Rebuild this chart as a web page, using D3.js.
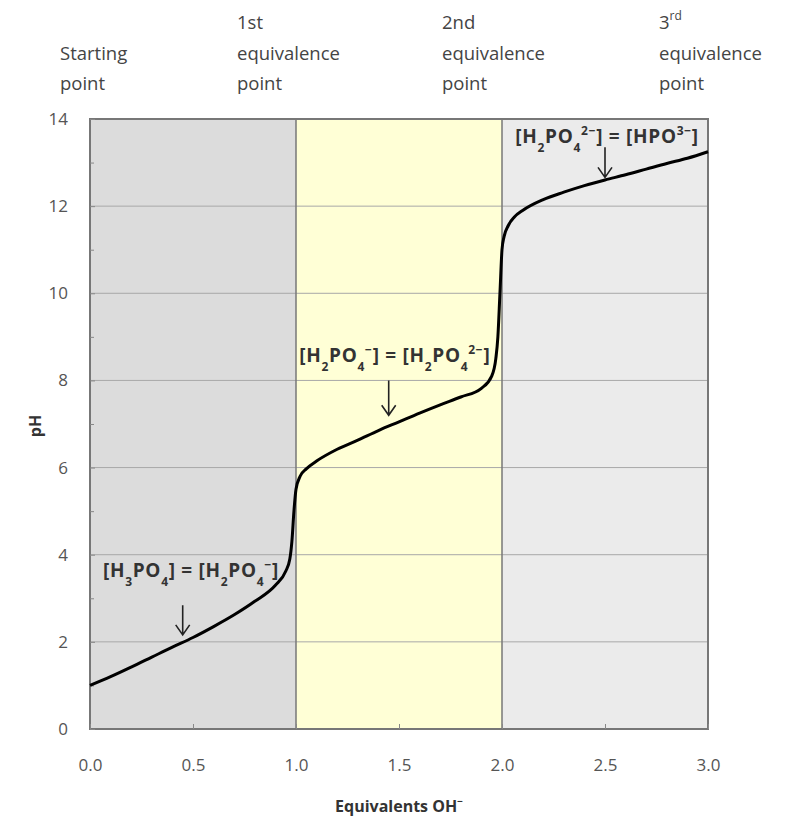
<!DOCTYPE html>
<html>
<head>
<meta charset="utf-8">
<script src="https://cdn.jsdelivr.net/npm/d3@7"></script>
<style>
    body { margin: 0; background: #fff; }
    svg text { font-family: "Open Sans", sans-serif; }
</style>
</head>
<body>
<div id="chart"></div>
<script>
// titration curve values
const equivalents = [0, 0.1, 0.2, 0.3, 0.4, 0.5, 0.6, 0.7, 0.8, 0.9, 0.95, 0.97, 0.98, 0.99, 1.0, 1.02, 1.05, 1.1, 1.2, 1.3, 1.4, 1.5, 1.6, 1.7, 1.8, 1.9, 1.95, 1.97, 1.98, 1.99, 2.0, 2.01, 2.03, 2.06, 2.1, 2.2, 2.3, 2.4, 2.5, 2.6, 2.7, 2.8, 2.9, 3.0];
const pH = [1.0, 1.2, 1.42, 1.65, 1.88, 2.1, 2.35, 2.62, 2.93, 3.3, 3.62, 3.9, 4.3, 5.0, 5.5, 5.8, 5.97, 6.15, 6.42, 6.63, 6.85, 7.05, 7.25, 7.44, 7.62, 7.82, 8.1, 8.5, 9.0, 10.0, 11.0, 11.3, 11.55, 11.75, 11.9, 12.15, 12.32, 12.47, 12.6, 12.72, 12.85, 12.98, 13.1, 13.25];

const xTicks = [0, 0.5, 1, 1.5, 2, 2.5, 3];
const yTicks = [0, 2, 4, 6, 8, 10, 12, 14];

// shaded regions between equivalence points
const regions = [
    {from: 0, to: 1, color: "#dcdcdc"},
    {from: 1, to: 2, color: "#ffffd6"},
    {from: 2, to: 3, color: "#ebebeb"}
];

// labels above the chart (at equivalents 0..3), [main, superscript]
const topLabels = [
    {at: 0, lines: [["Starting", ""], ["point", ""]]},
    {at: 1, lines: [["1st", ""], ["equivalence", ""], ["point", ""]]},
    {at: 2, lines: [["2nd", ""], ["equivalence", ""], ["point", ""]]},
    {at: 3, lines: [["3", "rd"], ["equivalence", ""], ["point", ""]]}
];

// annotations: label at (lx, ly), arrow from pH a0 down to a1 at equivalents ax
const annotations = [
    {lx: 0.49, ly: 3.49, ax: 0.45, a0: 2.84, a1: 2.16,
        parts: [["[H", ""], ["3", "sub"], ["PO", ""], ["4", "sub"], ["] = [H", ""], ["2", "sub"], ["PO", ""], ["4", "sub"], ["−", "sup"], ["]", ""]]},
    {lx: 1.48, ly: 8.42, ax: 1.45, a0: 8.0, a1: 7.2,
        parts: [["[H", ""], ["2", "sub"], ["PO", ""], ["4", "sub"], ["−", "sup"], ["] = [H", ""], ["2", "sub"], ["PO", ""], ["4", "sub"], ["2−", "sup"], ["]", ""]]},
    {lx: 2.51, ly: 13.44, ax: 2.5, a0: 13.35, a1: 12.66,
        parts: [["[H", ""], ["2", "sub"], ["PO", ""], ["4", "sub"], ["2−", "sup"], ["] = [HPO", ""], ["3−", "sup"], ["]", ""]]}
];

const margin = {top: 119, right: 86, bottom: 103, left: 90};
const width = 794 - margin.left - margin.right;
const height = 832 - margin.top - margin.bottom;

const svg = d3.select("#chart").append("svg")
    .attr("width", 794)
    .attr("height", 832);

const g = svg.append("g")
    .attr("transform", "translate(" + margin.left + "," + margin.top + ")");

const x = d3.scaleLinear().domain([0, 3]).range([0, width]);
const y = d3.scaleLinear().domain([0, 14]).range([height, 0]);

// background regions
g.selectAll(".region")
    .data(regions)
    .enter()
    .append("rect")
    .attr("x", d => x(d.from))
    .attr("width", d => x(d.to) - x(d.from))
    .attr("y", 0)
    .attr("height", height)
    .attr("fill", d => d.color);

// horizontal grid
g.selectAll(".grid")
    .data(yTicks.filter(d => d > 0 && d < 14))
    .enter()
    .append("line")
    .attr("x1", 0)
    .attr("x2", width)
    .attr("y1", d => y(d))
    .attr("y2", d => y(d))
    .attr("stroke", "#a8a8a8")
    .attr("stroke-width", 1);

// region dividers
g.selectAll(".divider")
    .data([1, 2])
    .enter()
    .append("line")
    .attr("x1", d => x(d))
    .attr("x2", d => x(d))
    .attr("y1", 0)
    .attr("y2", height)
    .attr("stroke", "#777")
    .attr("stroke-width", 1.5);

// frame
g.append("rect")
    .attr("width", width)
    .attr("height", height)
    .attr("fill", "none")
    .attr("stroke", "#777")
    .attr("stroke-width", 2);

// axes (ticks point inward like the original)
const xAxis = g.append("g")
    .attr("transform", "translate(0," + height + ")")
    .call(d3.axisBottom(x).tickValues(xTicks).tickFormat(d3.format(".1f")).tickSizeInner(-5).tickSizeOuter(0).tickPadding(30));

const yAxis = g.append("g")
    .call(d3.axisLeft(y).tickValues(yTicks).tickSizeInner(-5).tickSizeOuter(0).tickPadding(22));

// minor ticks on y axis
g.append("g")
    .call(d3.axisLeft(y).tickValues(d3.range(1, 14, 2)).tickSizeInner(-4).tickSizeOuter(0).tickFormat(""))
    .call(a => a.select(".domain").remove())
    .selectAll("line").attr("stroke", "#888");

[xAxis, yAxis].forEach(function(ax) {
    ax.select(".domain").remove();
    ax.selectAll("line").attr("stroke", "#888");
    ax.selectAll("text")
        .style("font-size", "17px")
        .attr("fill", "#555");
});

// axis titles
svg.append("text")
    .attr("x", margin.left + width / 2)
    .attr("y", 812)
    .attr("text-anchor", "middle")
    .style("font-size", "16px")
    .style("font-weight", "bold")
    .attr("fill", "#333")
    .text("Equivalents OH")
    .append("tspan")
    .attr("baseline-shift", "super")
    .style("font-size", "10px")
    .text("−");

svg.append("text")
    .attr("transform", "translate(41," + (margin.top + height / 2 + 2) + ") rotate(-90)")
    .attr("text-anchor", "middle")
    .style("font-size", "16px")
    .style("font-weight", "bold")
    .attr("fill", "#333")
    .text("pH");

// titration curve
const line = d3.line()
    .x((d, i) => x(equivalents[i]))
    .y(d => y(d))
    .curve(d3.curveMonotoneX);

g.append("path")
    .datum(pH)
    .attr("d", line)
    .attr("fill", "none")
    .attr("stroke", "#000")
    .attr("stroke-width", 3);

// labels above the chart
const topShift = [-30, -59, -60, -49];
topLabels.forEach(function(d, i) {
    const n = d.lines.length;
    const lx = margin.left + x(d.at) + topShift[i];
    const t = svg.append("text")
        .style("font-size", "18.5px")
        .attr("fill", "#444");
    d.lines.forEach(function(ln, j) {
        const baseY = 90 - (n - 1 - j) * 30.5;
        t.append("tspan")
            .attr("x", lx)
            .attr("y", baseY)
            .text(ln[0]);
        if (ln[1]) {
            t.append("tspan")
                .attr("dy", -9)
                .style("font-size", "12px")
                .text(ln[1]);
        }
    });
});

// annotations with arrows
annotations.forEach(function(a) {
    const txt = g.append("text")
        .attr("x", x(a.lx))
        .attr("y", y(a.ly))
        .attr("text-anchor", "middle")
        .style("font-size", "19px")
        .style("font-weight", "bold")
        .style("letter-spacing", "0.7px")
        .attr("fill", "#333");
    a.parts.forEach(function(p) {
        const ts = txt.append("tspan").text(p[0]);
        if (p[1] == "sub") {
            ts.attr("baseline-shift", "sub").style("font-size", "12px");
        } else if (p[1] == "sup") {
            ts.attr("baseline-shift", "super").style("font-size", "12px");
        }
    });

    // arrow
    const px = x(a.ax), top = y(a.a0), tip = y(a.a1);
    g.append("path")
        .attr("d", "M" + px + "," + top + "V" + tip + "M" + (px - 7) + "," + (tip - 10) + "L" + px + "," + tip + "L" + (px + 7) + "," + (tip - 10))
        .attr("fill", "none")
        .attr("stroke", "#222")
        .attr("stroke-width", 1.6);
});
</script>
</body>
</html>
